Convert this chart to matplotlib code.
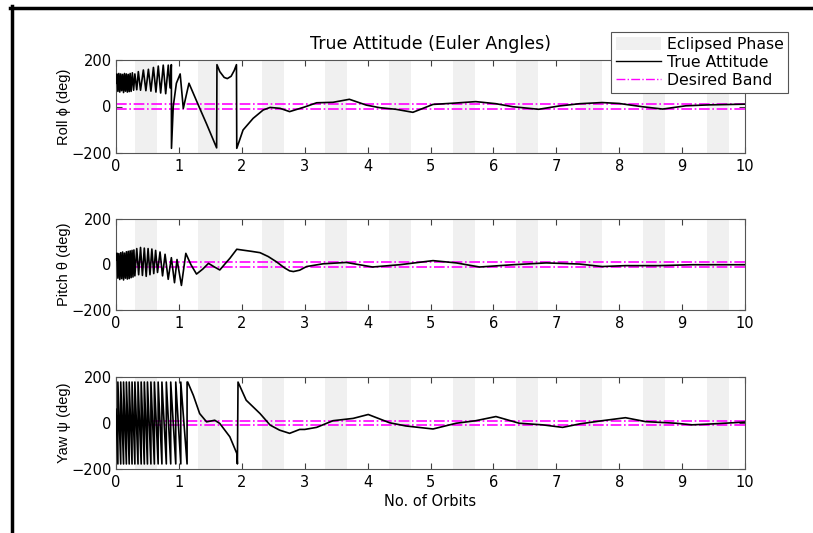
import numpy as np
import matplotlib
matplotlib.use('Agg')
from matplotlib import pyplot as plt
from matplotlib.lines import Line2D
from matplotlib.patches import Patch

plt.rcParams['font.family'] = ['DejaVu Sans']
plt.rcParams['font.size'] = 10.5

# eclipse windows (orbits)
eclipse_start = [0.30, 1.31, 2.32, 3.33, 4.34, 5.35, 6.36, 7.37, 8.38, 9.39]
eclipse_end = [0.65, 1.66, 2.67, 3.68, 4.69, 5.70, 6.71, 7.72, 8.73, 9.74]
band = [-10, 10]

roll_x = [0, 0.015, 0.03, 0.045, 0.06, 0.075, 0.09, 0.105, 0.12, 0.135,
          0.15, 0.165, 0.18, 0.195, 0.21, 0.225, 0.24, 0.26, 0.28, 0.30,
          0.33, 0.355, 0.39, 0.435, 0.475, 0.515, 0.555, 0.595, 0.635, 0.672,
          0.71, 0.751, 0.79, 0.831, 0.86, 0.880, 0.882, 0.91, 0.96, 1.02,
          1.07, 1.16, 1.33, 1.44, 1.60, 1.605, 1.65, 1.72, 1.77, 1.83,
          1.88, 1.915, 1.92, 2.02, 2.18, 2.34, 2.45, 2.61, 2.76, 3.0,
          3.19, 3.45, 3.71, 3.98, 4.19, 4.45, 4.72, 5.04, 5.35, 5.72,
          6.04, 6.31, 6.72, 7.04, 7.37, 7.73, 8.0, 8.37, 8.69, 9.06,
          9.43, 10.0]
roll_y = [100, 140, 65, 142, 62, 140, 68, 138, 60, 142,
          66, 140, 62, 138, 64, 142, 65, 145, 70, 140,
          72, 150, 70, 157, 68, 160, 66, 168, 62, 174,
          58, 178, 55, 178, 80, 180, -180, 0, 100, 140,
          -8, 100, -7, -75, -178, 180, 150, 125, 120, 130,
          155, 180, -180, -101, -51, -15, -4, -8, -22, -2,
          16, 18, 31, 6, -5, -12, -25, 9, 14, 21,
          12, -1, -12, 2, 12, 17, 13, -1, -11, 3,
          7, 10]

pitch_x = [0, 0.015, 0.03, 0.045, 0.06, 0.075, 0.09, 0.105, 0.12, 0.135,
           0.15, 0.165, 0.18, 0.195, 0.21, 0.225, 0.24, 0.255, 0.27, 0.285,
           0.30, 0.33, 0.36, 0.39, 0.42, 0.45, 0.48, 0.51, 0.54, 0.57,
           0.60, 0.63, 0.66, 0.70, 0.74, 0.78, 0.83, 0.88, 0.93, 0.97,
           1.04, 1.11, 1.19, 1.28, 1.38, 1.47, 1.56, 1.65, 1.74, 1.81,
           1.92, 2.02, 2.15, 2.29, 2.42, 2.55, 2.68, 2.76, 2.82, 2.92,
           3.03, 3.29, 3.66, 4.08, 4.51, 5.04, 5.41, 5.78, 6.31, 6.84,
           7.37, 7.73, 8.1, 8.63, 9.16, 10.0]
pitch_y = [20, 50, -60, 48, -66, 52, -62, 55, -68, 50,
           -60, 56, -64, 58, -62, 60, -58, 62, -55, 64,
           -50, 70, -45, 75, -48, 72, -52, 70, -45, 68,
           -40, 62, -35, 55, -50, 45, -65, 30, -80, 22,
           -92, 49, 0, -42, -20, 5, -10, -24, 5, 27,
           67, 63, 58, 52, 35, 12, -15, -28, -31, -25,
           -9, 3, 9, -11, -1, 17, 7, -11, -1, 7,
           2, -9, -5, -5, -1, -1]

# yaw wraps (-180 -> +180) during the tumbling phase
yaw_wrap = [0.03, 0.075, 0.12, 0.165, 0.21, 0.255, 0.30, 0.35, 0.40, 0.45,
            0.50, 0.555, 0.61, 0.67, 0.73, 0.80, 0.87, 0.95, 1.03, 1.13]
yaw_x = [0, 1.14, 1.23, 1.33, 1.44, 1.57, 1.65, 1.81, 1.92, 1.93,
         1.94, 2.07, 2.29, 2.45, 2.60, 2.76, 2.92, 3.0, 3.19, 3.45,
         3.77, 4.01, 4.35, 4.61, 5.04, 5.41, 5.72, 6.04, 6.41, 6.78,
         7.1, 7.37, 7.73, 8.1, 8.42, 8.9, 9.16, 9.48, 10.0]
yaw_y = [60, 178, 120, 41, 5, 12, -2, -60, -132, -178,
         178, 99, 41, -9, -31, -45, -28, -28, -19, 10,
         20, 37, 1, -13, -26, -1, 10, 28, -1, -8,
         -19, -4, 10, 23, 6, -1, -8, -4, 4]


def build_yaw():
    xs = [yaw_x[0]]
    ys = [yaw_y[0]]
    for w in yaw_wrap:
        xs += [w, w]
        ys += [-178, 178]
    return xs + yaw_x[1:], ys + yaw_y[1:]


def style_axis(ax, label):
    for x0, x1 in zip(eclipse_start, eclipse_end):
        ax.axvspan(x0, x1, color='#F0F0F0', lw=0, zorder=0)
    for b in band:
        ax.axhline(b, color='#FF00FF', ls='-.', lw=1.2, zorder=2)
    ax.set_xlim(0, 10)
    ax.set_ylim(-200, 200)
    ax.set_xticks(range(11))
    ax.set_yticks([-200, 0, 200])
    ax.tick_params(direction='in', top=True, right=True, length=4,
                   color='#404040', labelsize=10.5)
    ax.tick_params(axis='x', pad=4)
    ax.tick_params(axis='y', pad=3)
    for s in ax.spines.values():
        s.set_color('#555555')
        s.set_linewidth(0.8)
    ax.set_ylabel(label, fontsize=10.5, labelpad=0,
                  family=['Liberation Sans', 'DejaVu Sans'])


fig = plt.figure(figsize=(8.13, 5.33), dpi=100)
W, H = 813, 533
left = 116 / W
width = (745 - 116) / W
tops = [60, 219, 377]
bots = [153, 310, 469]
labels = ['Roll \u03d5 (deg)', 'Pitch \u03b8 (deg)', 'Yaw \u03c8 (deg)']
yx, yy = build_yaw()
data = [(roll_x, roll_y), (pitch_x, pitch_y), (yx, yy)]

axes = []
for t, b, lab, (dx, dy) in zip(tops, bots, labels, data):
    ax = fig.add_axes([left, 1 - b / H, width, (b - t) / H])
    style_axis(ax, lab)
    ax.plot(dx, dy, color='black', lw=1.2, zorder=3)
    axes.append(ax)

axes[0].set_title('True Attitude (Euler Angles)', fontsize=12.5, pad=8)
axes[2].set_xlabel('No. of Orbits', fontsize=10.5, labelpad=3)

handles = [Patch(facecolor='#F0F0F0', edgecolor='none'),
           Line2D([], [], color='black', lw=1),
           Line2D([], [], color='#FF00FF', ls='-.', lw=1)]
leg = fig.legend(handles, ['Eclipsed Phase', 'True Attitude', 'Desired Band'],
                 loc='upper left', bbox_to_anchor=(611 / W, 1 - 32 / H),
                 bbox_transform=fig.transFigure, fancybox=False,
                 framealpha=1, edgecolor='#555555', fontsize=11.3,
                 borderpad=0.3, labelspacing=0.2, handlelength=2.9,
                 handleheight=0.9, handletextpad=0.35, borderaxespad=0)
leg.get_frame().set_linewidth(0.8)

# screenshot frame on top and left
fig.add_artist(Line2D([11.5 / W, 11.5 / W], [0, 1 - 6 / H], color='black',
                      lw=2.5, transform=fig.transFigure))
fig.add_artist(Line2D([10 / W, 1], [1 - 7.5 / H, 1 - 7.5 / H], color='black',
                      lw=2.5, transform=fig.transFigure))

fig.savefig('out.png', dpi=100)
